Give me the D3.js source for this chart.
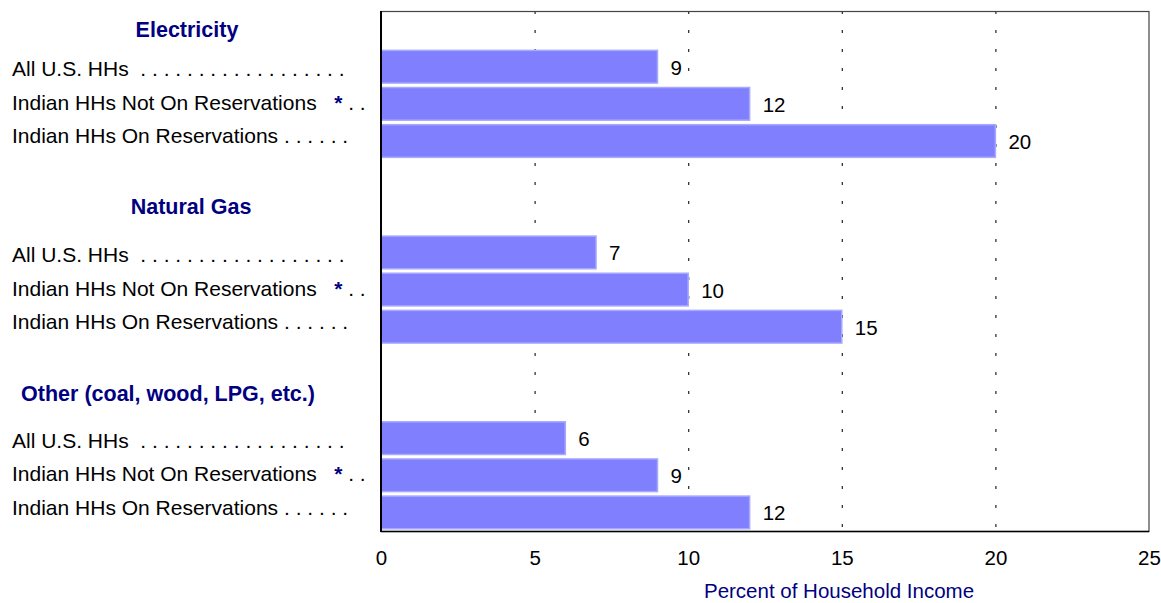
<!DOCTYPE html>
<html>
<head>
<meta charset="utf-8">
<script src="https://cdn.jsdelivr.net/npm/d3@7"></script>
<style>
    body { margin: 0; background: #fff; }
    text { font-family: "Liberation Sans", Arial, sans-serif; }
</style>
</head>
<body>
<div id="chart"></div>
<script>
// data
let groups = ["Electricity", "Natural Gas", "Other (coal, wood, LPG, etc.)"];
let households = ["All U.S. HHs", "Indian HHs Not On Reservations", "Indian HHs On Reservations"];
let leaders = ["  . . . . . . . . . . . . . . . . . .", "   * . .", " . . . . . ."];
let electricity = [9, 12, 20];
let naturalGas = [7, 10, 15];
let other = [6, 9, 12];
let xTicks = [0, 5, 10, 15, 20, 25];
let gridTicks = [5, 10, 15, 20];

let series = [electricity, naturalGas, other];

let width = 1161
let height = 603

let plot = {left: 381, right: 1149, top: 11, bottom: 531};

let svg = d3.select("#chart").append("svg")
    .attr("width", width)
    .attr("height", height);

let x = d3.scaleLinear()
    .domain([0, 25])
    .range([plot.left, plot.right]);

// 14 rows: header + 3 bars + blank for each group (last blank dropped)
let y = d3.scaleBand()
    .domain(d3.range(14))
    .range([plot.top, plot.bottom])
    .paddingInner(0.12)
    .paddingOuter(0.06);

let rows = [];
series.forEach(function (vals, g) {
    vals.forEach(function (v, i) {
        rows.push({group: g, idx: i, value: v, row: g * 5 + 1 + i});
    });
});

// dotted vertical grid (behind bars)
svg.append("g")
    .selectAll("line")
    .data(gridTicks)
    .enter().append("line")
    .attr("x1", d => x(d) + 0.5)
    .attr("x2", d => x(d) + 0.5)
    .attr("y1", plot.top)
    .attr("y2", plot.bottom)
    .attr("stroke", "#222")
    .attr("stroke-width", 1.2)
    .attr("stroke-dasharray", "3,16");

// bars
svg.append("g")
    .selectAll("rect")
    .data(rows)
    .enter().append("rect")
    .attr("x", x(0))
    .attr("y", d => y(d.row))
    .attr("width", d => x(d.value) - x(0))
    .attr("height", y.bandwidth())
    .attr("fill", "#8080ff")
    .attr("stroke", "#a8a8ff")
    .attr("stroke-width", 1.5);

// value labels
svg.append("g")
    .selectAll("text")
    .data(rows)
    .enter().append("text")
    .attr("x", d => x(d.value) + 13)
    .attr("y", d => y(d.row) + y.bandwidth() / 2 + 8)
    .attr("font-size", 20.5)
    .attr("fill", "#000")
    .text(d => d.value);

// frame
svg.append("rect")
    .attr("x", plot.left)
    .attr("y", plot.top + 0.5)
    .attr("width", plot.right - plot.left)
    .attr("height", plot.bottom - plot.top)
    .attr("fill", "none")
    .attr("stroke", "#444")
    .attr("stroke-width", 1.2);
svg.append("line")
    .attr("x1", plot.left).attr("x2", plot.left)
    .attr("y1", plot.top).attr("y2", plot.bottom + 1)
    .attr("stroke", "#000").attr("stroke-width", 2);
svg.append("line")
    .attr("x1", plot.left).attr("x2", plot.right)
    .attr("y1", plot.bottom + 0.5).attr("y2", plot.bottom + 0.5)
    .attr("stroke", "#000").attr("stroke-width", 1.5);

// x axis
let xAxis = svg.append("g")
    .attr("transform", "translate(0," + plot.bottom + ")")
    .call(d3.axisBottom(x).tickValues(xTicks).tickSize(0).tickPadding(19));
xAxis.select(".domain").remove();
xAxis.selectAll("text")
    .attr("font-size", 20.5)
    .attr("font-family", "'Liberation Sans', Arial, sans-serif")
    .attr("fill", "#000");

svg.append("text")
    .attr("x", 839)
    .attr("y", 598)
    .attr("text-anchor", "middle")
    .attr("font-size", 20.5)
    .attr("fill", "#000080")
    .text("Percent of Household Income");

// group headers
let headerX = [187, 191, 168];
let headerNudge = [7, -1, 0];
svg.append("g")
    .selectAll("text")
    .data(groups)
    .enter().append("text")
    .attr("x", (d, g) => headerX[g])
    .attr("y", (d, g) => y(g * 5) + y.bandwidth() / 2 + headerNudge[g])
    .attr("text-anchor", "middle")
    .attr("font-size", 21.5)
    .attr("font-weight", "bold")
    .attr("fill", "#000080")
    .text(d => d);

// category labels with dot leaders
let labelRows = [];
groups.forEach(function (grp, g) {
    households.forEach(function (h, i) {
        labelRows.push({group: g, idx: i, name: h});
    });
});

let labels = svg.append("g")
    .selectAll("text")
    .data(labelRows)
    .enter().append("text")
    .attr("x", 12)
    .attr("y", function (d) {
        let mid = y(d.group * 5 + 2) + y.bandwidth() / 2;
        return mid - 1 + (d.idx - 1) * 33.5 + 7;
    })
    .attr("font-size", 21)
    .attr("fill", "#000")
    .style("white-space", "pre");

labels.append("tspan").text(d => d.name);
labels.each(function (d) {
    let t = d3.select(this);
    let lead = leaders[d.idx];
    if (lead.indexOf("*") >= 0) {
        let parts = lead.split("*");
        t.append("tspan").text(parts[0]);
        t.append("tspan").attr("fill", "#000080").attr("font-weight", "bold").text("*");
        t.append("tspan").text(parts[1]);
    } else {
        t.append("tspan").text(lead);
    }
});
</script>
</body>
</html>
